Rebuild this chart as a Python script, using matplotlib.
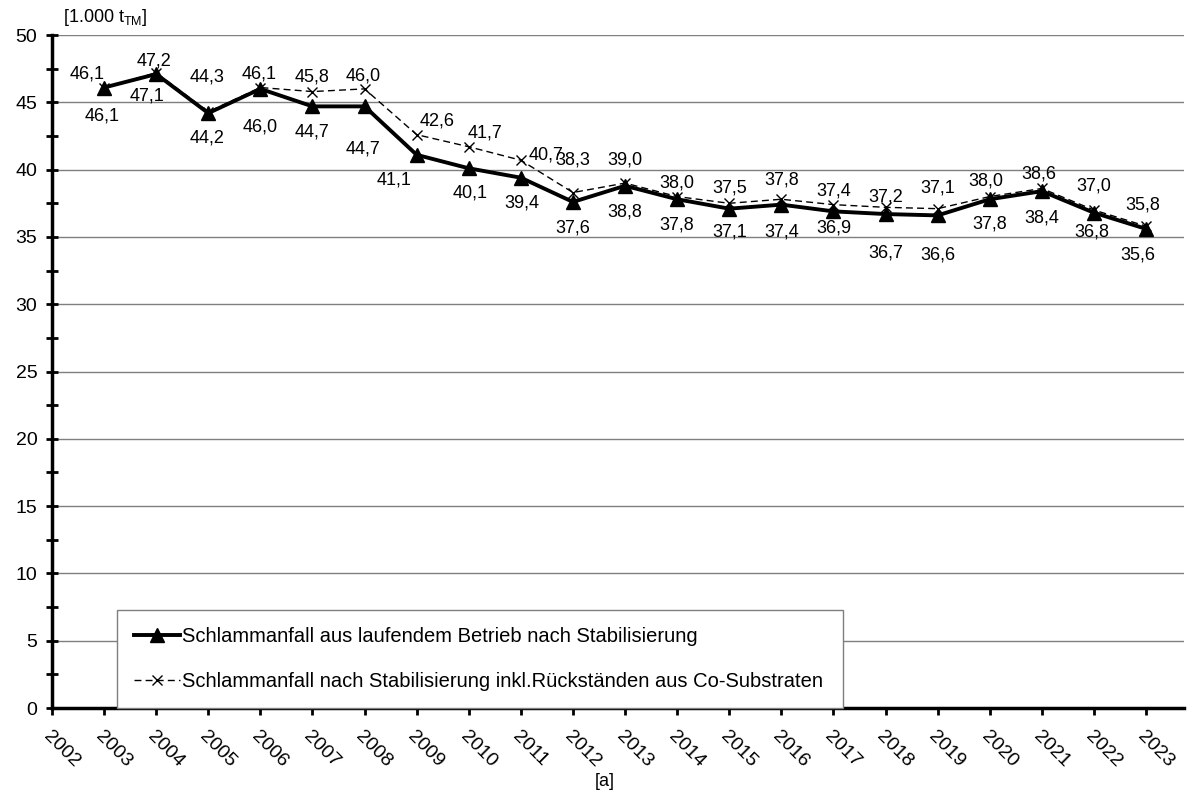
import numpy as np
import matplotlib
matplotlib.use("Agg")
import matplotlib.pyplot as plt
from matplotlib.ticker import MultipleLocator

plt.rcParams['font.family'] = ['Liberation Sans', 'DejaVu Sans']
plt.rcParams['mathtext.fontset'] = 'custom'
plt.rcParams['mathtext.rm'] = 'Liberation Sans'

# data (1.000 t TM)
years = list(range(2003, 2024))
betrieb = [46.1, 47.1, 44.2, 46.0, 44.7, 44.7, 41.1, 40.1, 39.4, 37.6, 38.8,
           37.8, 37.1, 37.4, 36.9, 36.7, 36.6, 37.8, 38.4, 36.8, 35.6]
inkl_co = [46.1, 47.2, 44.3, 46.1, 45.8, 46.0, 42.6, 41.7, 40.7, 38.3, 39.0,
           38.0, 37.5, 37.8, 37.4, 37.2, 37.1, 38.0, 38.6, 37.0, 35.8]
tick_years = list(range(2002, 2024))

label_betrieb = "Schlammanfall aus laufendem Betrieb nach Stabilisierung"
label_inkl = "Schlammanfall nach Stabilisierung inkl.Rückständen aus Co-Substraten"

# label offsets in pixels (dx, dy)
off_inkl = [(-17, 14), (-2, 12), (-1, 35), (-1, 14), (0, 15), (-1, 13), (20, 14),
            (16, 14), (25, 5), (0, 33), (0, 23), (0, 14), (0, 15), (0, 19),
            (0, 14), (0, 10), (0, 21), (-4, 16), (-3, 14), (0, 24), (-3, 21)]
off_betrieb = [(-2, -28), (-9, -22), (-1, -25), (0, -38), (0, -26), (-2, -43),
               (-23, -25), (1, -25), (1, -25), (0, -26), (0, -26), (0, -26),
               (0, -23), (0, -27), (0, -17), (0, -39), (0, -40), (0, -25),
               (0, -27), (-2, -19), (-8, -26)]

fig = plt.figure(figsize=(11.87, 7.91), dpi=100)
ax = fig.add_axes([0.0438, 0.1049, 0.9537, 0.8508])

# grid
ax.yaxis.set_major_locator(MultipleLocator(5))
ax.yaxis.set_minor_locator(MultipleLocator(2.5))
ax.grid(axis='y', which='major', color='#7f7f7f', lw=1)
ax.set_axisbelow(True)

ax.plot(years, inkl_co, color='black', lw=1, ls=(0, (5, 3)), marker='x',
        ms=7, mew=1, label=label_inkl, zorder=3)
ax.plot(years, betrieb, color='black', lw=2.8, marker='^', ms=10,
        label=label_betrieb, zorder=4)

def fmt(v):
    return f"{v:.1f}".replace('.', ',')

for x, v, (dx, dy) in zip(years, inkl_co, off_inkl):
    ax.annotate(fmt(v), (x, v), xytext=(dx, dy), textcoords='offset pixels',
                ha='center', va='center', fontsize=13, zorder=5)
for x, v, (dx, dy) in zip(years, betrieb, off_betrieb):
    ax.annotate(fmt(v), (x, v), xytext=(dx, dy), textcoords='offset pixels',
                ha='center', va='center', fontsize=13, zorder=5)

ax.set_xlim(2002, 2023.73)
ax.set_ylim(0, 50)
ax.set_xticks(tick_years)
ax.set_xticklabels([str(y) for y in tick_years], rotation=-45, ha='left',
                   va='top', rotation_mode='anchor', fontsize=14)
ax.tick_params(axis='x', direction='out', length=5, width=2, pad=9)
ax.tick_params(axis='y', which='major', direction='inout', length=9, width=2,
               labelsize=14, pad=6)
ax.tick_params(axis='y', which='minor', direction='inout', length=9, width=2)

for s in ['top', 'right']:
    ax.spines[s].set_visible(False)
for s in ['left', 'bottom']:
    ax.spines[s].set_linewidth(2.5)
    ax.spines[s].set_zorder(6)

handles, labels = ax.get_legend_handles_labels()
leg = ax.legend(handles[::-1], labels[::-1], loc='lower left',
                bbox_to_anchor=(0.0574, 0.0, 0.6414, 0.1516), mode='expand',
                borderaxespad=0, fontsize=14.5, frameon=True, fancybox=False,
                handlelength=2.3, handletextpad=0.1, labelspacing=1.3,
                borderpad=0.85, numpoints=1)
leg.get_frame().set_edgecolor('#7f7f7f')
leg.get_frame().set_linewidth(1)
leg.get_frame().set_alpha(1)
leg.set_zorder(7)

fig.text(63 / 1187, 1 - 18 / 791, r"[1.000 t$_{\mathrm{TM}}$]", ha='left',
         va='center', fontsize=13)
fig.text(605 / 1187, 1 - 782 / 791, "[a]", ha='center', va='center', fontsize=13)

fig.savefig("out.png", dpi=100)
